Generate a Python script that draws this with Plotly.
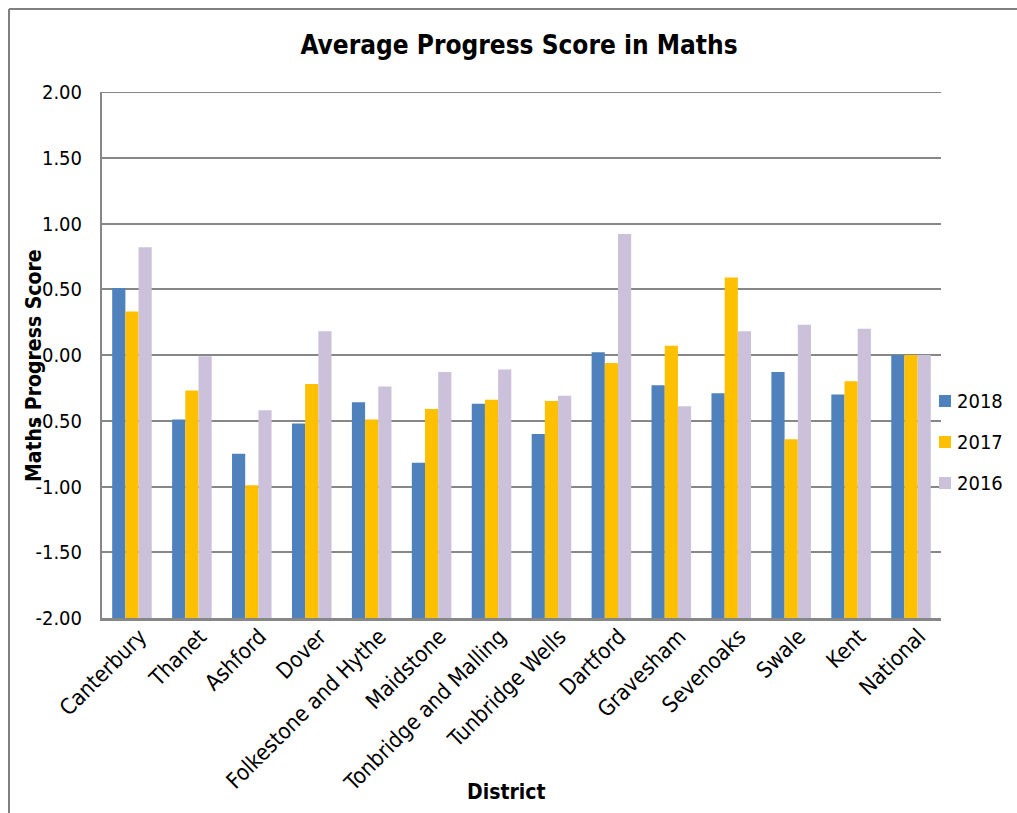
import plotly.graph_objects as go

# District-level average progress scores in maths
districts = [
    "Canterbury", "Thanet", "Ashford", "Dover", "Folkestone and Hythe",
    "Maidstone", "Tonbridge and Malling", "Tunbridge Wells", "Dartford",
    "Gravesham", "Sevenoaks", "Swale", "Kent", "National",
]
scores_2018 = [0.51, -0.49, -0.75, -0.52, -0.36, -0.82, -0.37, -0.60, 0.02, -0.23, -0.29, -0.13, -0.30, 0.00]
scores_2017 = [0.33, -0.27, -0.99, -0.22, -0.49, -0.41, -0.34, -0.35, -0.06, 0.07, 0.59, -0.64, -0.20, 0.00]
scores_2016 = [0.82, -0.01, -0.42, 0.18, -0.24, -0.13, -0.11, -0.31, 0.92, -0.39, 0.18, 0.23, 0.20, 0.00]

y_tickvals = [-2.0, -1.5, -1.0, -0.5, 0.0, 0.5, 1.0, 1.5, 2.0]
y_ticktext = ["-2.00", "-1.50", "-1.00", "-0.50", "0.00", "0.50", "1.00", "1.50", "2.00"]

AXIS_MIN, AXIS_MAX = -2.0, 2.0

FONT = "'DejaVu Sans Condensed', 'DejaVu Sans', Verdana, sans-serif"
GRID = "#878787"

W, H = 1017, 813
ML, MR, MT, MB = 102, 76, 92, 195
PW, PH = W - ML - MR, H - MT - MB


def px_x(x):
    return (x - ML) / PW


def px_y(y):
    return (H - MB - y) / PH


series = [
    ("2018", scores_2018, "#4F81BD"),
    ("2017", scores_2017, "#FFC000"),
    ("2016", scores_2016, "#CCC1DA"),
]

fig = go.Figure()
for name, vals, color in series:
    # bars rise from the bottom of the value axis
    fig.add_trace(go.Bar(
        name=name,
        x=districts,
        y=[v - AXIS_MIN for v in vals],
        base=AXIS_MIN,
        customdata=vals,
        hovertemplate="%{x}: %{customdata:.2f}<extra>" + name + "</extra>",
        marker=dict(color=color, line=dict(width=0)),
        showlegend=False,
    ))

fig.update_layout(
    width=W, height=H,
    margin=dict(l=ML, r=MR, t=MT, b=MB),
    paper_bgcolor="white", plot_bgcolor="white",
    font=dict(family=FONT, size=20, color="black"),
    barmode="group", bargap=0.34, bargroupgap=0,
    title=dict(
        text="<b>Average Progress Score in Maths</b>",
        x=px_x(519), xref="paper", xanchor="center",
        y=1 - 45 / H, yref="container", yanchor="middle",
        font=dict(size=26, family=FONT, color="black"),
    ),
    showlegend=False,
)

fig.update_xaxes(
    tickangle=-45,
    showline=True, linecolor=GRID, linewidth=3,
    showgrid=False, ticks="",
    ticklabelshift=8, ticklabelstandoff=-6,
    tickfont=dict(size=22, family=FONT),
)
fig.update_yaxes(
    range=[AXIS_MIN, AXIS_MAX],
    tickvals=y_tickvals, ticktext=y_ticktext,
    showline=True, linecolor=GRID, linewidth=2,
    showgrid=True, gridcolor=GRID, gridwidth=2,
    zeroline=False, ticks="",
    ticklabelstandoff=14,
    tickfont=dict(size=20, family=FONT),
)

# gridline along the top of the value range (Plotly skips grid at the range edge)
fig.add_shape(type="line", xref="paper", yref="y",
              x0=0, x1=1, y0=AXIS_MAX, y1=AXIS_MAX,
              line=dict(color=GRID, width=2))

# axis titles
fig.add_annotation(
    text="<b>Maths Progress Score</b>", textangle=-90,
    x=px_x(34), y=px_y(366), xref="paper", yref="paper",
    xanchor="center", yanchor="middle",
    showarrow=False, font=dict(size=21, family=FONT),
)
fig.add_annotation(
    text="<b>District</b>",
    x=px_x(506), y=px_y(792), xref="paper", yref="paper",
    xanchor="center", yanchor="middle",
    showarrow=False, font=dict(size=21, family=FONT),
)

# legend: colour key squares with the series names beside them
LEG_X, LEG_Y0, LEG_STEP, SW = 939, 401, 41, 12
for i, (name, _, color) in enumerate(series):
    cy = LEG_Y0 + i * LEG_STEP
    fig.add_shape(type="rect", xref="paper", yref="paper",
                  x0=px_x(LEG_X), x1=px_x(LEG_X + SW),
                  y0=px_y(cy + SW / 2), y1=px_y(cy - SW / 2),
                  fillcolor=color, line=dict(width=0))
    fig.add_annotation(text=name, x=px_x(LEG_X + SW + 4), y=px_y(cy),
                       xref="paper", yref="paper",
                       xanchor="left", yanchor="middle",
                       showarrow=False, font=dict(size=20, family=FONT))

# outer chart frame (top and left edges)
fig.add_shape(type="line", xref="paper", yref="paper",
              x0=px_x(9), y0=px_y(9), x1=px_x(W + 5), y1=px_y(9),
              line=dict(color="#808080", width=2))
fig.add_shape(type="line", xref="paper", yref="paper",
              x0=px_x(9), y0=px_y(9), x1=px_x(9), y1=px_y(H + 5),
              line=dict(color="#808080", width=2))

fig.write_html("out.html")
